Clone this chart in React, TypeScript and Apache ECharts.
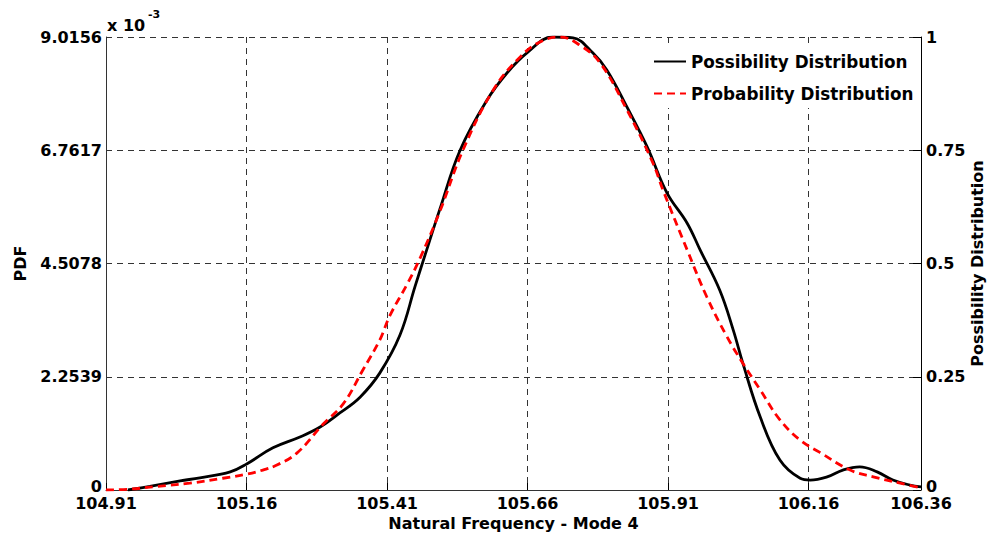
import React, { useEffect, useRef } from "react";
import * as echarts from "echarts";

// Natural frequency (x) bounds and tick labels
const X_MIN = 104.91;
const X_MAX = 106.36;
const xTickLabels = ["104.91", "105.16", "105.41", "105.66", "105.91", "106.16", "106.36"];
const pdfTickLabels = ["0", "2.2539", "4.5078", "6.7617", "9.0156"]; // x 10^-3
const possTickLabels = ["0", "0.25", "0.5", "0.75", "1"];

// Possibility distribution (black, right axis 0..1)
const possFreq = [
  104.949, 104.988, 105.042, 105.077, 105.131, 105.161, 105.207, 105.255, 105.291, 105.326,
  105.362, 105.397, 105.433, 105.46, 105.478, 105.504, 105.54, 105.588, 105.623, 105.659,
  105.705, 105.741, 105.776, 105.801, 105.837, 105.873, 105.908, 105.944, 105.967, 106.002,
  106.026, 106.043, 106.074, 106.109, 106.145, 106.163, 106.193, 106.221, 106.251,
  106.282, 106.31, 106.34, 106.36,
];
const possValues = [
  0, 0.008, 0.02, 0.027, 0.04, 0.058, 0.093, 0.117, 0.139, 0.17,
  0.205, 0.258, 0.342, 0.45, 0.52, 0.62, 0.75, 0.861, 0.92, 0.965,
  1.0, 0.998, 0.965, 0.927, 0.845, 0.757, 0.656, 0.589, 0.53, 0.441,
  0.353, 0.28, 0.161, 0.066, 0.026, 0.022, 0.029, 0.044, 0.051,
  0.04, 0.022, 0.011, 0.007,
];

// Probability distribution (red dashed, left axis, PDF x 10^-3)
const probFreq = [
  104.91, 104.953, 105.001, 105.059, 105.118, 105.161, 105.189, 105.214, 105.25, 105.296,
  105.332, 105.367, 105.397, 105.415, 105.446, 105.469, 105.504, 105.545, 105.599, 105.647,
  105.682, 105.718, 105.753, 105.789, 105.837, 105.883, 105.901, 105.944, 105.979, 106.015,
  106.043, 106.074, 106.109, 106.145, 106.18, 106.234, 106.275, 106.323, 106.36,
];
const probValues = [
  0, 0.018, 0.072, 0.135, 0.234, 0.316, 0.397, 0.496, 0.739, 1.307,
  1.713, 2.389, 2.984, 3.47, 4.1, 4.62, 5.545, 6.762, 7.961, 8.619,
  8.916, 9.016, 8.853, 8.502, 7.564, 6.509, 5.968, 4.778, 3.841, 3.047,
  2.524, 1.992, 1.397, 0.992, 0.748, 0.397, 0.261, 0.135, 0.045,
];

const FONT = "DejaVu Sans";

export default function App() {
  const ref = useRef<HTMLDivElement>(null);

  useEffect(() => {
    if (!ref.current) return;
    const chart = echarts.init(ref.current, null, { renderer: "svg" });
    const xSpan = X_MAX - X_MIN;
    const labelText = { fontFamily: FONT, fontWeight: "bold" as const, fontSize: 16, color: "#000" };
    const dashedGrid = { show: true, lineStyle: { color: "#333", type: [6, 5] as any, width: 1 } };
    const zeroRich = { z: { ...labelText, padding: [0, 0, 8, 0] } };

    chart.setOption({
      animation: false,
      backgroundColor: "#fff",
      grid: { left: 106, right: 71, top: 37, bottom: 43, containLabel: false, outerBoundsMode: "none" },
      legend: {
        orient: "vertical",
        left: 647,
        top: 47,
        padding: [6, 6],
        backgroundColor: "#fff",
        itemWidth: 32,
        itemHeight: 14,
        itemGap: 15,
        itemStyle: { opacity: 0 },
        textStyle: { ...labelText, fontSize: 16.8 },
        data: ["Possibility Distribution", "Probability Distribution"],
      },
      graphic: [
        { type: "text", left: 107, top: 17, style: { text: "x 10", fontFamily: FONT, fontWeight: "bold", fontSize: 16, fill: "#000" } },
        { type: "text", left: 148, top: 9, style: { text: "-3", fontFamily: FONT, fontWeight: "bold", fontSize: 11, fill: "#000" } },
      ],
      xAxis: {
        type: "value",
        min: 0,
        max: xSpan,
        interval: 0.25,
        name: "Natural Frequency - Mode 4",
        nameLocation: "middle",
        nameGap: 25,
        nameMoveOverlap: false,
        nameTextStyle: labelText,
        axisLine: { show: true, lineStyle: { color: "#333", width: 1 } },
        axisTick: { show: true, inside: true, length: 7, lineStyle: { color: "#000" } },
        axisLabel: {
          ...labelText,
          margin: 5,
          showMaxLabel: true,
          formatter: (v: number) => {
            if (Math.abs(v - xSpan) < 1e-6) return xTickLabels[xTickLabels.length - 1];
            return xTickLabels[Math.round(v / 0.25)] ?? "";
          },
        },
        splitLine: dashedGrid,
      },
      yAxis: [
        {
          type: "value",
          min: 0,
          max: 9.0156,
          interval: 2.2539,
          position: "left",
          name: "PDF",
          nameLocation: "middle",
          nameGap: 78,
          nameRotate: 90,
          nameMoveOverlap: false,
          nameTextStyle: labelText,
          axisLine: { show: true, lineStyle: { color: "#333", width: 1 } },
          axisTick: { show: false },
          axisLabel: {
            ...labelText,
            margin: 4,
            rich: zeroRich,
            formatter: (v: number) => {
              const i = Math.round(v / 2.2539);
              return i === 0 ? "{z|0}" : pdfTickLabels[i] ?? "";
            },
          },
          splitLine: dashedGrid,
        },
        {
          type: "value",
          min: 0,
          max: 1,
          interval: 0.25,
          position: "right",
          name: "Possibility Distribution",
          nameLocation: "middle",
          nameGap: 48,
          nameRotate: 90,
          nameMoveOverlap: false,
          nameTextStyle: labelText,
          axisLine: { show: true, lineStyle: { color: "#000", width: 1 } },
          axisTick: { show: true, inside: true, length: 8, lineStyle: { color: "#000" } },
          axisLabel: {
            ...labelText,
            margin: 5,
            rich: zeroRich,
            formatter: (v: number) => {
              const i = Math.round(v / 0.25);
              return i === 0 ? "{z|0}" : possTickLabels[i] ?? "";
            },
          },
          splitLine: { show: false },
        },
      ],
      series: [
        {
          name: "Possibility Distribution",
          type: "line",
          yAxisIndex: 1,
          smooth: 0.4,
          symbol: "none",
          lineStyle: { color: "#000", width: 2.8 },
          itemStyle: { color: "#000" },
          data: possFreq.map((f, i) => [f - X_MIN, possValues[i]]),
          z: 3,
        },
        {
          name: "Probability Distribution",
          type: "line",
          yAxisIndex: 0,
          smooth: 0.4,
          symbol: "none",
          lineStyle: { color: "#ff0000", width: 2.8, type: [8, 5] },
          itemStyle: { color: "#ff0000" },
          data: probFreq.map((f, i) => [f - X_MIN, probValues[i]]),
          z: 4,
        },
      ],
    });
    return () => chart.dispose();
  }, []);

  return <div ref={ref} style={{ position: "fixed", left: 0, top: 0, width: 992, height: 533 }} />;
}
